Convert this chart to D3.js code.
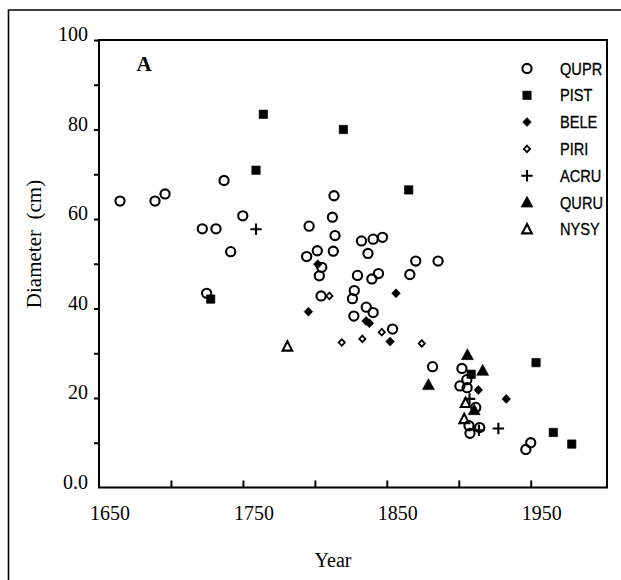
<!DOCTYPE html>
<html>
<head>
<meta charset="utf-8">
<script src="https://cdn.jsdelivr.net/npm/d3@7"></script>
<style>
  body { margin: 0; background: #fff; }
  svg { display: block; }
</style>
</head>
<body>
<svg id="chart" width="621" height="580"></svg>
<script>
// species codes in legend order
const species = ["QUPR", "PIST", "BELE", "PIRI", "ACRU", "QURU", "NYSY"];

// year / diameter (cm) per species
const quprYear = [1664.6, 1688.9, 1695.9, 1721.8, 1731.3, 1736.9, 1741.5, 1749.9, 1724.8, 1794.3,
                  1796.0, 1801.7, 1804.8, 1803.1, 1804.3, 1812.8, 1813.3, 1812.2, 1814.0, 1832.4,
                  1840.5, 1847.0, 1836.9, 1829.6, 1839.6, 1844.2, 1866.0, 1870.1, 1885.6, 1827.4,
                  1826.1, 1827.1, 1835.7, 1840.5, 1854.0, 1881.8, 1902.2, 1905.6, 1900.8, 1905.8,
                  1911.8, 1907.1, 1907.8, 1914.5, 1950.0, 1946.6];
const quprDiam = [64.0, 64.0, 65.6, 57.8, 57.8, 68.6, 52.7, 60.7, 43.4, 51.6,
                  58.4, 52.9, 49.2, 47.3, 42.8, 52.8, 65.2, 60.4, 56.3, 55.1,
                  55.5, 55.9, 52.3, 47.4, 46.6, 47.8, 47.6, 50.6, 50.6, 44.0,
                  42.2, 38.3, 40.3, 39.1, 35.4, 27.0, 26.6, 24.1, 22.7, 22.3,
                  17.9, 13.8, 12.1, 13.4, 10.0, 8.5];

const pistYear = [1727.6, 1759.1, 1764.2, 1819.8, 1865.2, 1908.6, 1953.7, 1965.7, 1978.5];
const pistDiam = [42.1, 70.9, 83.4, 80.0, 66.5, 25.3, 27.9, 12.3, 9.7];

const beleYear = [1795.5, 1802.0, 1835.6, 1837.9, 1852.3, 1856.4, 1913.6, 1933.0];
const beleDiam = [39.3, 49.9, 37.2, 36.7, 32.6, 43.4, 21.8, 19.8];

const piriYear = [1810.1, 1818.7, 1833.0, 1846.5, 1874.3];
const piriDiam = [42.8, 32.4, 33.2, 34.7, 32.2];

const acruYear = [1759.1, 1907.5, 1914.0, 1927.5];
const acruDiam = [57.7, 19.8, 12.8, 13.2];

const quruYear = [1878.9, 1906.0, 1916.6, 1910.7];
const quruDiam = [22.9, 29.6, 26.1, 17.3];

const nysyYear = [1780.9, 1904.7, 1903.8];
const nysyDiam = [31.5, 18.9, 15.3];

const yTicks = [10, 20, 30, 40, 50, 60, 70, 80, 90, 100];
const yLabels = [0, 20, 40, 60, 80, 100];
const xTicks = [1700, 1750, 1800, 1850, 1900, 1950];
const xLabels = [1650, 1750, 1850, 1950];

const series = {
    QUPR: d3.zip(quprYear, quprDiam),
    PIST: d3.zip(pistYear, pistDiam),
    BELE: d3.zip(beleYear, beleDiam),
    PIRI: d3.zip(piriYear, piriDiam),
    ACRU: d3.zip(acruYear, acruDiam),
    QURU: d3.zip(quruYear, quruDiam),
    NYSY: d3.zip(nysyYear, nysyDiam)
};

// marker shapes, centred on 0,0
function markerPath(sp){
    switch(sp){
        case "QUPR": return "M4.6,0A4.6,4.6 0 1,1 -4.6,0A4.6,4.6 0 1,1 4.6,0Z";
        case "PIST": return "M-4.2,-4.2H4.2V4.2H-4.2Z";
        case "BELE": return "M0,-4.5L4.3,0L0,4.5L-4.3,0Z";
        case "PIRI": return "M0,-3.3L3.1,0L0,3.3L-3.1,0Z";
        case "ACRU": return "M-5.7,0H5.7M0,-5.7V5.7";
        case "QURU": return "M0,-6.3L6,4.6H-6Z";
        case "NYSY": return "M0,-5.2L4.8,4.1H-4.8Z";
    }
}
function markerStyle(sel, sp){
    let filled = (sp == "PIST" || sp == "BELE" || sp == "QURU");
    sel.attr("fill", filled ? "#000" : "none")
       .attr("stroke", "#000")
       .attr("stroke-width", filled ? 0.6 : (sp == "PIRI" ? 1.8 : 2.1))
       .attr("stroke-linejoin", "miter");
}

let margin = { top: 40, right: 14, bottom: 92.5, left: 99 };
let width = 621 - margin.left - margin.right;
let height = 580 - margin.top - margin.bottom;

let svgRoot = d3.select("#chart");

// outer scan border (left and top only)
svgRoot.append("path")
    .attr("d", "M8.5,580V10H621")
    .attr("fill", "none")
    .attr("stroke", "#000")
    .attr("stroke-width", 1.6);

let svg = svgRoot.append("g")
    .attr("transform", "translate(" + margin.left + "," + margin.top + ")");

let xScale = d3.scaleLinear().domain([1650, 2003]).range([0, width]);
let yScale = d3.scaleLinear().domain([0, 100]).range([height, 0]);

// frame
svg.append("rect")
    .attr("x", 0).attr("y", 0)
    .attr("width", width).attr("height", height)
    .attr("fill", "none")
    .attr("stroke", "#000")
    .attr("stroke-width", 2);

let serif = "'Liberation Serif', 'Times New Roman', serif";

let xAxis = d3.axisBottom(xScale)
    .tickValues(xTicks)
    .tickSizeInner(-7)
    .tickSizeOuter(0)
    .tickFormat("");
let gx = svg.append("g")
    .attr("transform", "translate(0," + height + ")")
    .call(xAxis);
gx.select(".domain").remove();
gx.selectAll(".tick line").attr("stroke-width", 2);

let yAxis = d3.axisLeft(yScale)
    .tickValues(yTicks)
    .tickSizeInner(5)
    .tickSizeOuter(0)
    .tickFormat("");
let gy = svg.append("g").call(yAxis);
gy.select(".domain").remove();
gy.selectAll(".tick line").attr("stroke-width", 2);

// tick labels
svg.selectAll(".xlab")
    .data(xLabels)
    .enter().append("text")
    .attr("class", "xlab")
    .attr("x", function(d){ return xScale(d) + 11; })
    .attr("y", height + 32)
    .attr("text-anchor", "middle")
    .attr("font-family", serif)
    .attr("font-size", 20)
    .text(function(d){ return d; });

svg.selectAll(".ylab")
    .data(yLabels)
    .enter().append("text")
    .attr("class", "ylab")
    .attr("x", -11)
    .attr("y", function(d){ return yScale(d) + 1; })
    .attr("text-anchor", "end")
    .attr("font-family", serif)
    .attr("font-size", 20)
    .text(function(d){ return d == 0 ? "0.0" : d; });

// axis titles
svgRoot.append("text")
    .attr("transform", "translate(41,244) rotate(-90)")
    .attr("text-anchor", "middle")
    .attr("font-family", serif)
    .attr("font-size", 21)
    .attr("xml:space", "preserve")
    .style("white-space", "pre")
    .text("Diameter  (cm)");

svgRoot.append("text")
    .attr("x", 333)
    .attr("y", 567)
    .attr("text-anchor", "middle")
    .attr("font-family", serif)
    .attr("font-size", 20)
    .text("Year");

svgRoot.append("text")
    .attr("x", 144)
    .attr("y", 71)
    .attr("text-anchor", "middle")
    .attr("font-family", serif)
    .attr("font-weight", "bold")
    .attr("font-size", 21)
    .text("A");

// points
species.forEach(function(sp){
    svg.append("g")
        .selectAll("path")
        .data(series[sp])
        .enter().append("path")
        .attr("d", markerPath(sp))
        .attr("transform", function(d){
            return "translate(" + xScale(d[0]) + "," + yScale(d[1]) + ")";
        })
        .call(markerStyle, sp);
});

// legend
let legend = svgRoot.append("g");
species.forEach(function(sp, i){
    let ly = 68.5 + i * 26.8;
    legend.append("path")
        .attr("d", markerPath(sp))
        .attr("transform", "translate(527," + ly + ")")
        .call(markerStyle, sp);
    legend.append("text")
        .attr("transform", "translate(560," + (ly + 6) + ") scale(0.86,1)")
        .attr("font-family", "'Liberation Sans', Arial, sans-serif")
        .attr("font-size", 17)
        .attr("stroke", "#000")
        .attr("stroke-width", 0.3)
        .text(sp);
});
</script>
</body>
</html>
